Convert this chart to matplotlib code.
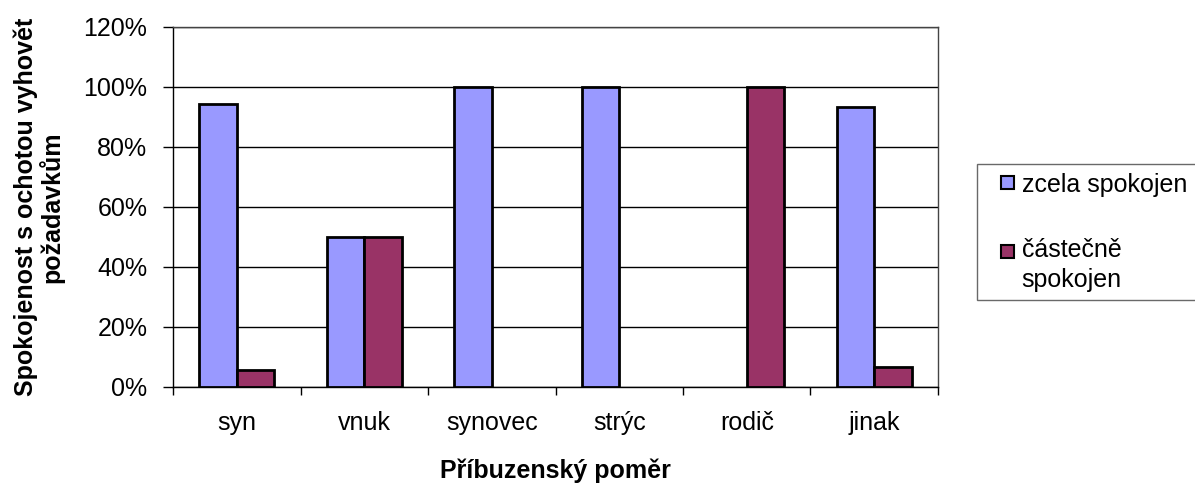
import matplotlib
matplotlib.use("Agg")
import matplotlib.pyplot as plt
import numpy as np
from matplotlib.ticker import FuncFormatter, MultipleLocator
from matplotlib.legend_handler import HandlerPatch
from matplotlib.patches import Rectangle
from matplotlib.container import BarContainer

plt.rcParams['font.family'] = ['Liberation Sans', 'DejaVu Sans']

categories = ["syn", "vnuk", "synovec", "strýc", "rodič", "jinak"]
series_names = ["zcela spokojen", "částečně\nspokojen"]
zcela = [94.4, 50.0, 100.0, 100.0, 0.0, 93.3]
castecne = [5.6, 50.0, 0.0, 0.0, 100.0, 6.7]
colors = ["#9999FF", "#993366"]
ylabel = "Spokojenost s ochotou vyhovět\npožadavkům"
xlabel = "Příbuzenský poměr"

fig = plt.figure(figsize=(11.95, 4.84), dpi=100)
W, H = 1195, 484
left, right, top, bottom = 173, 938, 27, 387
ax = fig.add_axes([left / W, 1 - bottom / H, (right - left) / W, (bottom - top) / H])

x = np.arange(len(categories))
bw = 0.294
for vals, off, c, name in [(zcela, -bw / 2, colors[0], series_names[0]),
                           (castecne, bw / 2, colors[1], series_names[1])]:
    v = np.array(vals)
    bars = ax.bar(x + off, v, width=bw, color=c, edgecolor="black", linewidth=2.0,
                  label=name, zorder=3)
    for b, val in zip(bars, v):
        if val == 0:
            b.set_visible(False)

ax.set_xlim(-0.5, len(categories) - 0.5)
ax.set_ylim(0, 120)
ax.yaxis.set_major_locator(MultipleLocator(20))
ax.yaxis.set_major_formatter(FuncFormatter(lambda v, p: f"{int(round(v))}%"))
ax.grid(axis="y", color="black", linewidth=1.0, zorder=0)
ax.set_xticks(x)
ax.set_xticklabels(categories)
ax.set_xticks(np.arange(len(categories) + 1) - 0.5, minor=True)
ax.tick_params(axis="x", which="major", length=0, labelsize=18, pad=17)
ax.tick_params(axis="x", which="minor", length=6, width=1, direction="out")
ax.tick_params(axis="y", length=7, width=1, direction="out", labelsize=18, pad=11.5)
for s in ["left", "bottom", "top", "right"]:
    ax.spines[s].set_linewidth(1.0)
    ax.spines[s].set_color("black")
ax.spines["top"].set_color("#444444")
ax.spines["right"].set_color("#444444")

ax.set_ylabel(ylabel, fontsize=18, fontweight="bold", labelpad=14, linespacing=1.0)
ax.set_xlabel(xlabel, fontsize=18, fontweight="bold", labelpad=17)


def square(legend, orig_handle, xdescent, ydescent, width, height, fontsize):
    s = 0.52 * fontsize
    lbl = orig_handle.get_label()
    shift = 10.0 if "\n" in lbl else 0.0
    return Rectangle((width - xdescent - s, -ydescent + (height - s) / 2 + shift), s, s)


def upd(tgt, orig):
    first = next(iter(orig), None)
    if first is not None:
        tgt.update_from(first)
        tgt.set_visible(True)


leg = fig.legend(loc="upper left", bbox_to_anchor=(977 / W, 1 - 164 / H),
                 fontsize=18, frameon=True, fancybox=False, edgecolor="#444444",
                 handlelength=1.14, handleheight=0.55, handletextpad=0.3,
                 labelspacing=1.65, borderpad=0.35, borderaxespad=0,
                 handler_map={BarContainer: HandlerPatch(patch_func=square, update_func=upd)})
leg.get_frame().set_linewidth(1.0)
for t in leg.get_texts():
    t.set_linespacing(1.3)
for h in leg.legend_handles:
    h.set_linewidth(1.5)

fig.savefig("out.png", dpi=100, facecolor="white")
